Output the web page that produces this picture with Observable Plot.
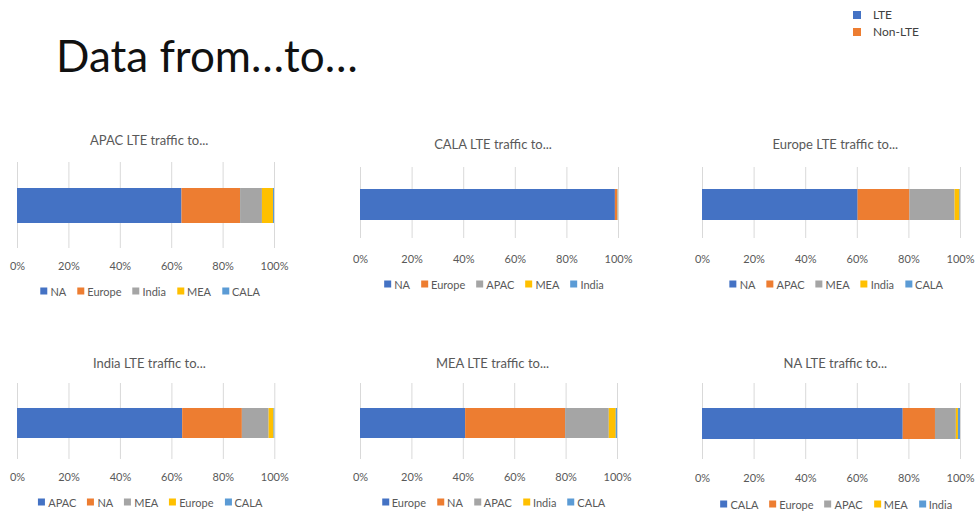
<!DOCTYPE html>
<html>
<head>
<meta charset="utf-8">
<script src="https://cdn.jsdelivr.net/npm/d3@7"></script>
<script src="https://cdn.jsdelivr.net/npm/@observablehq/plot@0.6"></script>
<style>
  html, body { margin: 0; padding: 0; background: #fff; }
  #page { position: relative; width: 975px; height: 515px; overflow: hidden; font-family: Lato, "Open Sans", sans-serif; }
  .abs { position: absolute; }
  .mainTitle { left: 56px; top: 33px; font-size: 44px; font-weight: 400; color: #111; line-height: 1; white-space: nowrap; }
  .ptitle { font-size: 13px; color: #595959; text-align: center; white-space: nowrap; transform: translate(-50%, -50%); }
  .legend { display: flex; gap: 11px; font-size: 11px; color: #595959; white-space: nowrap; transform: translate(-50%, -50%); }
  .legend span.item { display: inline-flex; align-items: center; gap: 3px; }
  .legend span.sw { display: inline-block; width: 7px; height: 7px; }
  .topLegend { left: 853px; font-size: 12px; color: #404040; }
  .topLegend div { display: flex; align-items: center; height: 17px; }
  .topLegend span.sw { display: inline-block; width: 8px; height: 8px; margin-right: 12px; }
</style>
</head>
<body>
<div id="page"></div>
<script>
// ---------- data ----------
const mainTitle = "Data from…to…";
const topLegendLabels = ["LTE", "Non-LTE"];

const panelTitles = [
  "APAC LTE traffic to...",
  "CALA LTE traffic to...",
  "Europe LTE traffic to...",
  "India LTE traffic to...",
  "MEA LTE traffic to...",
  "NA LTE traffic to..."
];

const apacDest = ["NA", "Europe", "India", "MEA", "CALA"];
const apacShare = [64.0, 22.8, 8.5, 4.3, 0.4];

const calaDest = ["NA", "Europe", "APAC", "MEA", "India"];
const calaShare = [98.8, 0.9, 0.1, 0.1, 0.1];

const europeDest = ["NA", "APAC", "MEA", "India", "CALA"];
const europeShare = [60.3, 20.1, 17.5, 1.9, 0.2];

const indiaDest = ["APAC", "NA", "MEA", "Europe", "CALA"];
const indiaShare = [64.2, 23.2, 10.4, 1.9, 0.3];

const meaDest = ["Europe", "NA", "APAC", "India", "CALA"];
const meaShare = [40.9, 38.9, 17.0, 2.7, 0.5];

const naDest = ["CALA", "Europe", "APAC", "MEA", "India"];
const naShare = [77.8, 12.5, 8.1, 0.8, 0.8];

const xTicks = [0, 20, 40, 60, 80, 100];

// ---------- styles / layout (kept apart from data) ----------
const palette = ["#4472C4", "#ED7D31", "#A5A5A5", "#FFC000", "#5B9BD5"];
const panelDest = [apacDest, calaDest, europeDest, indiaDest, meaDest, naDest];
const panelShare = [apacShare, calaShare, europeShare, indiaShare, meaShare, naShare];
const layout = [
  {x0: 16.7, x1: 273.7, gridTop: 162, gridBot: 248, barTop: 188, barBot: 223, tickY: 266, legendY: 291, titleY: 140},
  {x0: 360,  x1: 618,   gridTop: 167, gridBot: 238, barTop: 189, barBot: 220, tickY: 259, legendY: 284, titleY: 144},
  {x0: 702.3,x1: 960.3, gridTop: 167, gridBot: 238, barTop: 189, barBot: 220, tickY: 259, legendY: 284, titleY: 144},
  {x0: 16.7, x1: 274,   gridTop: 383, gridBot: 459, barTop: 408, barBot: 438, tickY: 477, legendY: 502, titleY: 363},
  {x0: 360,  x1: 617,   gridTop: 383, gridBot: 459, barTop: 408, barBot: 438, tickY: 477, legendY: 502, titleY: 363},
  {x0: 702.3,x1: 960.3, gridTop: 383, gridBot: 459, barTop: 408, barBot: 439, tickY: 478, legendY: 504, titleY: 363}
];

const page = document.getElementById("page");

// main title
const t = document.createElement("div");
t.className = "abs mainTitle";
t.textContent = mainTitle;
page.appendChild(t);

// top legend
const tl = document.createElement("div");
tl.className = "abs topLegend";
tl.style.top = "6px";
topLegendLabels.forEach((lab, i) => {
  const row = document.createElement("div");
  row.innerHTML = `<span class="sw" style="background:${palette[i]}"></span><span>${lab}</span>`;
  tl.appendChild(row);
});
page.appendChild(tl);

// panels
panelTitles.forEach((title, i) => {
  const L = layout[i];
  const cats = panelDest[i];
  const vals = panelShare[i];
  const data = cats.map((c, j) => ({dest: c, share: vals[j]}));
  const mL = 20, mR = 30, mB = 40;
  const plotW = L.x1 - L.x0;
  const gridH = L.gridBot - L.gridTop;
  const chart = Plot.plot({
    width: mL + plotW + mR,
    height: gridH + mB,
    marginLeft: mL,
    marginRight: mR,
    marginTop: 0,
    marginBottom: mB,
    style: {fontFamily: "Lato, 'Open Sans', sans-serif", fontSize: "11px", color: "#595959", background: "transparent", overflow: "visible"},
    x: {domain: [0, 100]},
    color: {domain: cats, range: palette},
    marks: [
      Plot.gridX(xTicks, {stroke: "#d9d9d9", strokeOpacity: 1, strokeWidth: 1}),
      Plot.barX(data, Plot.stackX({
        x: "share",
        fill: "dest",
        order: null,
        insetTop: L.barTop - L.gridTop,
        insetBottom: L.gridBot - L.barBot,
        insetLeft: 0,
        insetRight: 0
      })),
      Plot.axisX({
        ticks: xTicks,
        tickSize: 0,
        tickPadding: L.tickY - L.gridBot - 4,
        tickFormat: d => d + "%",
        fill: "#595959",
        fontSize: 11,
        label: null
      })
    ]
  });
  chart.style.position = "absolute";
  chart.style.left = (L.x0 - mL) + "px";
  chart.style.top = L.gridTop + "px";
  page.appendChild(chart);

  const center = (L.x0 + L.x1) / 2;

  const pt = document.createElement("div");
  pt.className = "abs ptitle";
  pt.style.left = (center + 4) + "px";
  pt.style.top = L.titleY + "px";
  pt.textContent = title;
  page.appendChild(pt);

  const lg = document.createElement("div");
  lg.className = "abs legend";
  lg.style.left = (center + 5) + "px";
  lg.style.top = L.legendY + "px";
  cats.forEach((c, j) => {
    const it = document.createElement("span");
    it.className = "item";
    it.innerHTML = `<span class="sw" style="background:${palette[j]}"></span><span>${c}</span>`;
    lg.appendChild(it);
  });
  page.appendChild(lg);
});
</script>
</body>
</html>
